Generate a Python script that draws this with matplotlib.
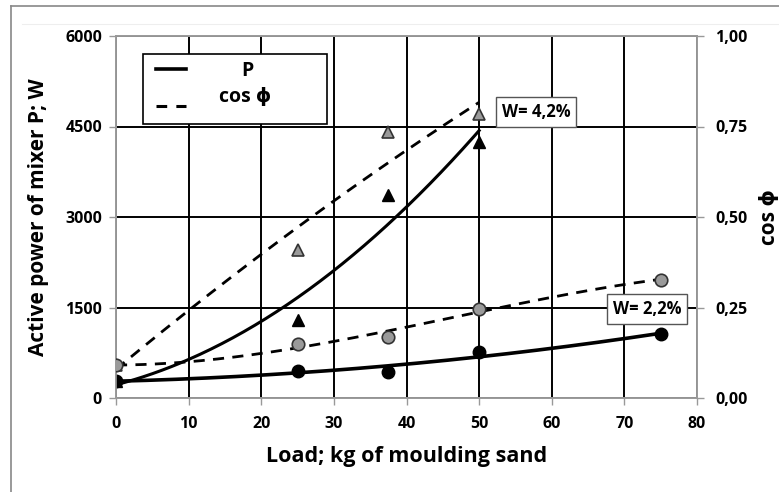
import numpy as np
import matplotlib
matplotlib.use("Agg")
import matplotlib.pyplot as plt
from matplotlib.lines import Line2D
from matplotlib.patches import Rectangle

plt.rcParams['font.family'] = ['Open Sans', 'DejaVu Sans']
plt.rcParams['font.weight'] = 'bold'

# data
load_42 = [0, 25, 37.5, 50]
p_42 = [280, 1300, 3370, 4250]
cos_42 = [0.09, 0.408, 0.735, 0.785]

load_22 = [0, 25, 37.5, 50, 75]
p_22 = [280, 450, 430, 766, 1058]
cos_22 = [0.09, 0.148, 0.169, 0.247, 0.327]

x_ticks = [0, 10, 20, 30, 40, 50, 60, 70, 80]
p_ticks = [0, 1500, 3000, 4500, 6000]
cos_ticks = [0.0, 0.25, 0.5, 0.75, 1.0]
cos_tick_labels = ['0,00', '0,25', '0,50', '0,75', '1,00']

W, H = 779, 492
fig = plt.figure(figsize=(W / 100, H / 100), dpi=100)


def fx(px):
    return px / W


def fy(py):
    return 1 - py / H


# outer frame lines
fig.add_artist(Line2D([fx(11), fx(11)], [0, fy(6)], color='#888888', lw=1.2))
fig.add_artist(Line2D([fx(11), 1], [fy(6), fy(6)], color='#888888', lw=1.2))
fig.add_artist(Line2D([fx(22), 1], [fy(24), fy(24)], color='#eeeeee', lw=0.8))

ax = fig.add_axes([fx(116), fy(398), fx(697) - fx(116), fy(36) - fy(398)])
ax2 = ax.twinx()

ax.set_xlim(0, 80)
ax.set_ylim(0, 6000)
ax2.set_ylim(0, 1)
ax.set_xticks(x_ticks)
ax.set_yticks(p_ticks)
ax2.set_yticks(cos_ticks)
ax2.set_yticklabels(cos_tick_labels)
ax.grid(True, color='black', lw=1.4)
ax.set_axisbelow(True)

for a in (ax, ax2):
    for s in a.spines.values():
        s.set_color('#999999')
        s.set_linewidth(1.2)
    a.tick_params(colors='#999999', labelcolor='black', length=5, width=1, labelsize=11.5)
ax.tick_params(axis='x', pad=8)
ax.tick_params(axis='y', pad=5)
ax2.tick_params(axis='y', pad=8)


# trend lines (least-squares fits of the measured points)
def trend(x, y, deg, xmax):
    c = np.polyfit(x, y, deg)
    xs = np.linspace(0, xmax, 200)
    return xs, np.polyval(c, xs)


xs, ys = trend(load_42, p_42, 2, 50)
ax.plot(xs, ys, color='black', lw=2.2, zorder=3)
xs, ys = trend(load_22, p_22, 2, 75)
ax.plot(xs, ys, color='black', lw=2.6, zorder=3)
xs, ys = trend(load_42, cos_42, 2, 50)
ax2.plot(xs, ys, color='black', lw=2.0, ls=(0, (4, 3)), zorder=3)
xs, ys = trend(load_22, cos_22, 3, 75)
ax2.plot(xs, ys, color='black', lw=2.0, ls=(0, (4, 3)), zorder=3)

# markers
ax.plot(load_42, p_42, '^', color='black', ms=9, zorder=4)
ax.plot(load_22, p_22, 'o', color='black', ms=9, zorder=4)
ax2.plot(load_42, cos_42, '^', mfc='#9a9a9a', mec='#333333', mew=1.2, ms=9, zorder=4)
ax2.plot(load_22, cos_22, 'o', mfc='#9a9a9a', mec='#333333', mew=1.2, ms=9, zorder=4)

ax.set_xlabel('Load; kg of moulding sand', fontsize=15.5, fontweight='bold', labelpad=10)
ax.set_ylabel('Active power of mixer P; W', fontsize=15, fontweight='bold', labelpad=12)
ax2.set_ylabel('cos ϕ', fontsize=15, fontweight='bold', labelpad=8)

# legend box drawn manually
fig.add_artist(Rectangle((fx(143), fy(124)), fx(327) - fx(143), fy(54) - fy(124),
                         fc='white', ec='black', lw=1.2, zorder=10))
fig.add_artist(Line2D([fx(156), fx(186)], [fy(69), fy(69)], color='black', lw=2.6, zorder=11))
fig.add_artist(Line2D([fx(156), fx(186)], [fy(106), fy(106)], color='black', lw=2.2,
                      ls=(0, (3.5, 3)), zorder=11))
fig.text(fx(247), fy(71), 'P', ha='center', va='center', fontsize=14, fontweight='bold', zorder=12)
fig.text(fx(245), fy(97), 'cos ϕ', ha='center', va='center', fontsize=14, fontweight='bold', zorder=12)

bbox = dict(boxstyle='square,pad=0.35', fc='white', ec='#555555', lw=1)
fig.text(fx(536), fy(112), 'W= 4,2%', ha='center', va='center',
         fontsize=12, fontweight='bold', bbox=bbox, zorder=11)
fig.text(fx(647), fy(309), 'W= 2,2%', ha='center', va='center',
         fontsize=12, fontweight='bold', bbox=bbox, zorder=11)

fig.savefig('out.png', dpi=100)
